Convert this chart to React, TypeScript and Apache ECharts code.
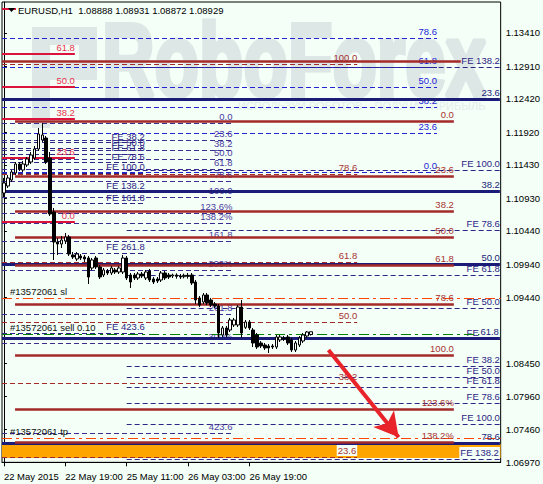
import React, { useEffect, useRef } from "react";
import * as echarts from "echarts";

const BG = "#F3FFF7";
const FONT = '"Liberation Sans", Arial, sans-serif';

// H1 candles: [open, close, low, high]
const candles: number[][] = [
  [1.11010, 1.11160, 1.10950, 1.11235],
  [1.11115, 1.11235, 1.11085, 1.11280],
  [1.11205, 1.11325, 1.11175, 1.11355],
  [1.11310, 1.11445, 1.11280, 1.11475],
  [1.11445, 1.11370, 1.11340, 1.11475],
  [1.11355, 1.11445, 1.11325, 1.11490],
  [1.11430, 1.11520, 1.11400, 1.11550],
  [1.11475, 1.11580, 1.11445, 1.11625],
  [1.11535, 1.11670, 1.11505, 1.11715],
  [1.11670, 1.11895, 1.11640, 1.11985],
  [1.11805, 1.11880, 1.11775, 1.12060],
  [1.11835, 1.11475, 1.11445, 1.11865],
  [1.11535, 1.10695, 1.10665, 1.11625],
  [1.10725, 1.10275, 1.10005, 1.10785],
  [1.10275, 1.10245, 1.10080, 1.10335],
  [1.10245, 1.10305, 1.10185, 1.10365],
  [1.10290, 1.10350, 1.10245, 1.10410],
  [1.10350, 1.10095, 1.10065, 1.10380],
  [1.10080, 1.10050, 1.10020, 1.10125],
  [1.10020, 1.10095, 1.09990, 1.10125],
  [1.10065, 1.10035, 1.10005, 1.10095],
  [1.10050, 1.10020, 1.09975, 1.10080],
  [1.10035, 1.09750, 1.09645, 1.10065],
  [1.09885, 1.10005, 1.09855, 1.10035],
  [1.10035, 1.09900, 1.09870, 1.10065],
  [1.09900, 1.09750, 1.09720, 1.09930],
  [1.09780, 1.09855, 1.09750, 1.09885],
  [1.09840, 1.09810, 1.09780, 1.09870],
  [1.09810, 1.09885, 1.09780, 1.09915],
  [1.09855, 1.09825, 1.09795, 1.09885],
  [1.09825, 1.09885, 1.09795, 1.09915],
  [1.09825, 1.10035, 1.09795, 1.10080],
  [1.10035, 1.09735, 1.09705, 1.10065],
  [1.09780, 1.09675, 1.09585, 1.09810],
  [1.09780, 1.09735, 1.09705, 1.09810],
  [1.09735, 1.09795, 1.09705, 1.09825],
  [1.09795, 1.09765, 1.09735, 1.09825],
  [1.09735, 1.09825, 1.09705, 1.09855],
  [1.09840, 1.09705, 1.09675, 1.09870],
  [1.09720, 1.09675, 1.09645, 1.09750],
  [1.09720, 1.09690, 1.09660, 1.09750],
  [1.09705, 1.09810, 1.09675, 1.09840],
  [1.09810, 1.09735, 1.09705, 1.09840],
  [1.09780, 1.09750, 1.09720, 1.09810],
  [1.09765, 1.09780, 1.09735, 1.09800],
  [1.09780, 1.09760, 1.09725, 1.09805],
  [1.09765, 1.09750, 1.09720, 1.09795],
  [1.09755, 1.09775, 1.09730, 1.09800],
  [1.09775, 1.09760, 1.09725, 1.09810],
  [1.09780, 1.09660, 1.09630, 1.09810],
  [1.09675, 1.09405, 1.09345, 1.09705],
  [1.09435, 1.09330, 1.09300, 1.09465],
  [1.09375, 1.09480, 1.09345, 1.09510],
  [1.09480, 1.09360, 1.09330, 1.09510],
  [1.09405, 1.09330, 1.09300, 1.09435],
  [1.09345, 1.09315, 1.09285, 1.09375],
  [1.09315, 1.08910, 1.08835, 1.09345],
  [1.08880, 1.08985, 1.08850, 1.09015],
  [1.08985, 1.08880, 1.08850, 1.09015],
  [1.08955, 1.09105, 1.08925, 1.09135],
  [1.09030, 1.09105, 1.09000, 1.09135],
  [1.09030, 1.09300, 1.09000, 1.09330],
  [1.09300, 1.08910, 1.08835, 1.09405],
  [1.08995, 1.09075, 1.08970, 1.09105],
  [1.09075, 1.08985, 1.08955, 1.09105],
  [1.08955, 1.08760, 1.08700, 1.08985],
  [1.08880, 1.08700, 1.08670, 1.08910],
  [1.08760, 1.08715, 1.08685, 1.08790],
  [1.08730, 1.08685, 1.08655, 1.08760],
  [1.08715, 1.08685, 1.08610, 1.08745],
  [1.08715, 1.08700, 1.08670, 1.08745],
  [1.08700, 1.08850, 1.08670, 1.08880],
  [1.08805, 1.08850, 1.08775, 1.08880],
  [1.08835, 1.08820, 1.08790, 1.08865],
  [1.08850, 1.08760, 1.08730, 1.08880],
  [1.08805, 1.08655, 1.08625, 1.08835],
  [1.08655, 1.08760, 1.08625, 1.08790],
  [1.08730, 1.08835, 1.08700, 1.08865],
  [1.08790, 1.08880, 1.08760, 1.08910],
  [1.08865, 1.08925, 1.08835, 1.08940],
  [1.08888, 1.08929, 1.08872, 1.08931],
];

const slotCount = 130;
const xTickIndex = [0, 16, 32, 48, 64];
const xTickLabels = ["22 May 2015", "22 May 19:00", "25 May 11:00", "26 May 03:00", "26 May 19:00"];

const yTickValues = [1.1341, 1.1291, 1.1242, 1.1192, 1.1143, 1.1093, 1.1044, 1.0994, 1.0944, 1.0845, 1.0796, 1.0746, 1.0697];
const yTickLabels = ["1.13410", "1.12910", "1.12420", "1.11920", "1.11430", "1.10930", "1.10440", "1.09940", "1.09440", "1.08450", "1.07960", "1.07460", "1.06970"];
const yMin = 1.0697;
const yMax = 1.13875;
const lastPrice = 1.08929;
const lastPriceLabel = "1.08929";
const headerText = "EURUSD,H1  1.08888 1.08931 1.08872 1.08929";

// Fibonacci retracement A (blue, dashed)
const fibALabels = ["78.6", "61.8", "50.0", "38.2", "23.6", "0.0"];
const fibAPrices = [1.13335, 1.129, 1.126, 1.123, 1.1191, 1.11325];
const fibASpan = [-0.5, 112.9];

// Fibonacci retracement B (indigo, dashed)
const fibBLabels = ["0.0", "23.6", "38.2", "50.0", "61.8", "78.6", "100.0", "123.6%", "138.2%", "161.8", "200%", "261.8", "300%", "423.6"];
const fibBPrices = [1.1206, 1.11805, 1.11655, 1.1152, 1.1137, 1.1119, 1.1095, 1.1071, 1.1056, 1.1029, 1.09855, 1.09195, 1.0876, 1.0741];
const fibBSpan = [-0.5, 59.6];

// Fibonacci expansion G
const feGLabels = ["FE 38.2", "FE 50.0", "FE 61.8", "FE 78.6", "FE 100.0", "FE 138.2", "FE 161.8", "FE 261.8", "FE 423.6"];
const feGPrices = [1.1177, 1.1168, 1.11595, 1.1147, 1.1131, 1.11025, 1.10855, 1.1011, 1.0891];
const feGSpan = [-0.5, 36.7];

// Fibonacci expansion H1
const feH1Labels = ["FE 138.2", "FE 100.0", "FE 78.6", "FE 61.8", "FE 50.0", "FE 38.2"];
const feH1Prices = [1.129, 1.11355, 1.10455, 1.0978, 1.09285, 1.0882];
const feH1Span = [32, 129.3];

// Fibonacci expansion H2
const feH2Labels = ["FE 38.2", "FE 50.0", "FE 61.8", "FE 78.6", "FE 100.0", "FE 138.2"];
const feH2Prices = [1.08415, 1.0825, 1.081, 1.0786, 1.07545, 1.0702];
const feH2Span = [32, 129.3];

// Fibonacci retracement E (brown, dashed)
const fibELabels = ["100.0", "78.6", "61.8", "50.0", "38.2", "23.6"];
const fibEPrices = [1.12945, 1.11295, 1.09975, 1.09075, 1.0816, 1.0705];
const fibESpan = [-0.5, 92.1];

// Fibonacci retracement C (navy, solid)
const fibCLabels = ["23.6", "38.2", "50.0", "61.8", "78.6"];
const fibCPrices = [1.1242, 1.1104, 1.09945, 1.08835, 1.0726];
const fibCSpan = [-0.5, 129.3];

// Fibonacci retracement D (brown, solid)
const fibDLabels = ["0.0", "23.6", "38.2", "50.0", "61.8", "78.6", "100.0", "123.6%", "138.2%"];
const fibDPrices = [1.1209, 1.11265, 1.1074, 1.1035, 1.0993, 1.09345, 1.0858, 1.0777, 1.07275];
const fibDSpan = [2.9, 117.3];

// extra brown level
const brownExtraPrices = [1.1299];
const brownExtraSpan = [-0.5, 119.1];

// Fibonacci retracement F (crimson); top level label is hidden under the header
const fibFLabels = ["", "61.8", "50.0", "38.2", "23.6", "0.0"];
const fibFPrices = [1.1377, 1.13095, 1.126, 1.1212, 1.11535, 1.10575];
const fibFSpan = [-0.5, 18.5];

// order lines
const orderLabels = ["#13572061 sl", "#13572061 sell 0.10", "#13572061 tp"];
const orderPrices = [1.09435, 1.08895, 1.07335];
const orderSpan = [-0.5, 129.5];

// target rectangle
const rectSpan = [-0.5, 129.5];
const rectPrices = [1.07245, 1.07035];

// arrow
const arrowFrom = [84.6, 1.08655];
const arrowTo = [102.9, 1.07345];

function hLines(
  labels: string[] | null,
  prices: number[],
  span: number[],
  line: any,
  labelColor: string,
  opts: { pos?: string; dist?: number[]; bg?: number[] } = {}
) {
  return prices.map((p, i) => [
    {
      coord: [span[0], p],
      lineStyle: line,
      label:
        labels && labels[i] !== ""
          ? {
              show: true,
              formatter: labels[i],
              position: opts.pos || "insideEndTop",
              distance: opts.dist || [0, 1],
              color: labelColor,
              fontSize: 9.5,
              fontFamily: FONT,
              ...(opts.bg && opts.bg.includes(i)
                ? { backgroundColor: BG, padding: [1, 1, 0, 1] }
                : {}),
            }
          : { show: false },
    },
    { coord: [span[1], p] },
  ]);
}

function overlay(z: number, data: any[]) {
  return {
    type: "line",
    xAxisIndex: 1,
    yAxisIndex: 0,
    data: [],
    silent: true,
    z,
    markLine: {
      silent: true,
      symbol: ["none", "none"],
      z,
      label: { show: false },
      emphasis: { disabled: true },
      data,
    },
  };
}

function buildOption() {
  const dashed = [5, 3];
  const dashDot = [10, 4, 3, 4];
  const blue = "#2323D6";
  const indigo = "#3B2C90";
  const feCol = "#2E2485";
  const brown = "#A52A2A";
  const navy = "#1B1B78";
  const crimson = "#DC143C";
  const wm = "#DCE7E6";

  const dashedData = [
    ...hLines(fibALabels, fibAPrices, fibASpan, { color: blue, width: 1, type: dashed }, blue),
    ...hLines(fibBLabels, fibBPrices, fibBSpan, { color: indigo, width: 1, type: dashed }, "#4A3A9E"),
    ...hLines(feGLabels, feGPrices, feGSpan, { color: feCol, width: 1, type: dashed }, feCol),
    ...hLines(feH1Labels, feH1Prices, feH1Span, { color: feCol, width: 1, type: dashed }, feCol),
    ...hLines(feH2Labels, feH2Prices, feH2Span, { color: feCol, width: 1, type: dashed }, feCol, { bg: [5] }),
    ...hLines(fibELabels, fibEPrices, fibESpan, { color: brown, width: 1, type: dashed }, "#A83232", { bg: [5] }),
  ];
  const orderOpts = { pos: "insideStartTop", dist: [8, 1] };
  const orderData = [
    ...hLines(orderLabels.slice(0, 1), orderPrices.slice(0, 1), orderSpan, { color: "#FF4500", width: 1, type: dashDot }, "#111", orderOpts),
    ...hLines(orderLabels.slice(1, 2), orderPrices.slice(1, 2), orderSpan, { color: "#008000", width: 1, type: dashDot }, "#111", orderOpts),
    ...hLines(orderLabels.slice(2, 3), orderPrices.slice(2, 3), orderSpan, { color: "#FF4500", width: 1, type: dashDot }, "#111", orderOpts),
  ];
  const navyData = hLines(fibCLabels, fibCPrices, fibCSpan, { color: navy, width: 3, type: "solid" }, navy, { bg: [3] });
  const brownData = [
    ...hLines(null, brownExtraPrices, brownExtraSpan, { color: brown, width: 2.5, type: "solid" }, brown),
    ...hLines(fibDLabels, fibDPrices, fibDSpan, { color: brown, width: 2.5, type: "solid" }, "#A83232"),
  ];
  const crimsonData = hLines(fibFLabels, fibFPrices, fibFSpan, { color: crimson, width: 2, type: "solid" }, "#E8324E");

  const slots = Array.from({ length: slotCount }, (_, i) => String(i));
  const tickSet = new Set(xTickIndex);

  return {
    animation: false,
    backgroundColor: BG,
    textStyle: { fontFamily: FONT },
    grid: {
      left: 2,
      top: 2,
      right: 41,
      bottom: 21.67,
      show: true,
      borderColor: "#000",
      borderWidth: 1,
      backgroundColor: "transparent",
    },
    xAxis: [
      {
        type: "category",
        data: slots,
        boundaryGap: true,
        axisLine: { show: true, lineStyle: { color: "#000", width: 1 } },
        axisTick: {
          show: true,
          alignWithLabel: true,
          interval: (i: number) => tickSet.has(i),
          length: 4,
          lineStyle: { color: "#000" },
        },
        axisLabel: {
          interval: (i: number) => tickSet.has(i),
          formatter: (_v: string, i: number) => {
            const k = xTickIndex.indexOf(i);
            return k >= 0 ? xTickLabels[k] : "";
          },
          align: "left",
          margin: 9,
          color: "#000",
          fontSize: 9.5,
          fontFamily: FONT,
          hideOverlap: false,
        },
        splitLine: { show: false },
      },
      { type: "value", min: -0.5, max: slotCount - 0.5, show: false },
    ],
    yAxis: {
      type: "value",
      position: "right",
      min: yMin,
      max: yMax,
      splitLine: { show: false },
      axisLine: { show: true, lineStyle: { color: "#000" } },
      axisTick: { show: true, customValues: yTickValues, length: 3, lineStyle: { color: "#000" } },
      axisLabel: {
        customValues: yTickValues,
        formatter: (v: number) => {
          const i = yTickValues.findIndex((t) => Math.abs(t - v) < 1e-7);
          return i >= 0 ? yTickLabels[i] : "";
        },
        margin: 5,
        color: "#000",
        fontSize: 9.5,
        fontFamily: FONT,
      },
    },
    graphic: [
      {
        type: "group",
        silent: true,
        z: 0,
        children: [
          { type: "rect", shape: { x: 32, y: 27, width: 18, height: 101 }, style: { fill: wm } },
          { type: "rect", shape: { x: 32, y: 27, width: 65, height: 18 }, style: { fill: wm } },
          { type: "rect", shape: { x: 79, y: 27, width: 18, height: 53 }, style: { fill: wm } },
          { type: "rect", shape: { x: 32, y: 63, width: 65, height: 17 }, style: { fill: wm } },
          {
            type: "text",
            x: 102,
            y: 60,
            scaleX: 0.7,
            style: {
              text: "RoboForex",
              font: 'bold 104px "Liberation Sans"',
              fill: wm,
              stroke: wm,
              lineWidth: 5,
              verticalAlign: "middle",
              align: "left",
            },
          },
          {
            type: "text",
            x: 238,
            y: 106,
            style: {
              text: "ИСПОЛЬЗУЙ РОБОТОВ – ПОЛУЧАЙ ПРИБЫЛЬ",
              font: '11px "Liberation Sans"',
              fill: "#E4EDEB",
              verticalAlign: "middle",
            },
          },
        ],
      },
      {
        type: "group",
        silent: true,
        z: 100,
        children: [
          { type: "rect", z: 100, shape: { x: 16, y: 4, width: 212, height: 12 }, style: { fill: BG } },
          {
            type: "text",
            z: 101,
            x: 18,
            y: 10,
            style: {
              text: headerText,
              font: '9.5px "Liberation Sans"',
              fill: "#000",
              verticalAlign: "middle",
            },
          },
          { type: "polygon", z: 101, shape: { points: [[8, 8], [15, 8], [11.5, 12]] }, style: { fill: "#000" } },
        ],
      },
    ],
    series: [
      {
        type: "line",
        xAxisIndex: 1,
        yAxisIndex: 0,
        data: [],
        silent: true,
        z: 1,
        markArea: {
          silent: true,
          z: 1,
          itemStyle: { color: "#FFA500" },
          data: [[{ coord: [rectSpan[0], rectPrices[0]] }, { coord: [rectSpan[1], rectPrices[1]] }]],
        },
      },
      overlay(2, dashedData),
      overlay(3, orderData),
      overlay(4, navyData),
      overlay(5, brownData),
      overlay(6, crimsonData),
      {
        type: "line",
        xAxisIndex: 1,
        yAxisIndex: 0,
        data: [],
        silent: true,
        z: 8,
        markLine: {
          silent: true,
          z: 8,
          symbol: ["none", "arrow"],
          symbolSize: [20, 24],
          label: { show: false },
          lineStyle: { color: "#E8232A", width: 4, type: "solid" },
          itemStyle: { color: "#E8232A" },
          data: [[{ coord: arrowFrom }, { coord: arrowTo }]],
        },
      },
      {
        type: "candlestick",
        xAxisIndex: 0,
        yAxisIndex: 0,
        data: candles,
        barWidth: 3,
        silent: true,
        z: 20,
        itemStyle: {
          color: "#FFFFFF",
          color0: "#000000",
          borderColor: "#000000",
          borderColor0: "#000000",
          borderWidth: 1,
        },
        markLine: {
          silent: true,
          z: 30,
          symbol: ["none", "none"],
          data: [
            {
              yAxis: lastPrice,
              lineStyle: { opacity: 0 },
              label: {
                show: true,
                position: "end",
                formatter: lastPriceLabel,
                backgroundColor: "#000",
                color: "#fff",
                padding: [2, 3, 1, 3],
                distance: 1,
                fontSize: 9.5,
                fontFamily: FONT,
              },
            },
          ],
        },
      },
    ],
  };
}

export default function App() {
  const ref = useRef<HTMLDivElement>(null);
  useEffect(() => {
    document.body.style.margin = "0";
    const chart = echarts.init(ref.current!, null, { renderer: "svg" });
    chart.setOption(buildOption() as any);
    return () => chart.dispose();
  }, []);
  return (
    <div
      ref={ref}
      style={{ position: "absolute", left: 0, top: 0, width: 543, height: 484, background: BG }}
    />
  );
}
